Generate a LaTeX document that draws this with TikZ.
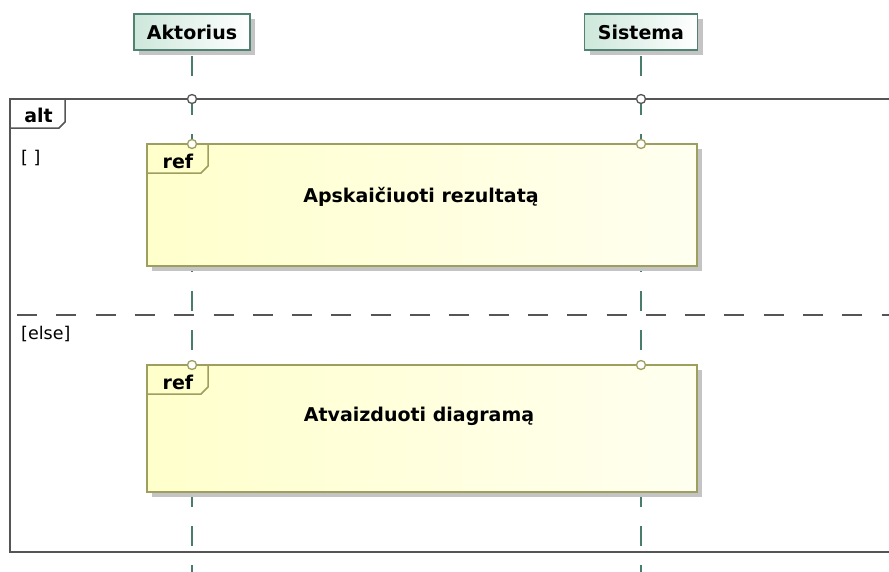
\documentclass[tikz,border=0pt]{standalone}
\usepackage{fontspec}
\setmainfont{DejaVu Sans}
\usetikzlibrary{shadows}

\definecolor{lifegreen}{HTML}{4A7C6C}
\definecolor{headedge}{HTML}{4F8270}
\definecolor{headfill}{HTML}{CDE7DB}
\definecolor{refedge}{HTML}{9E9E5E}
\definecolor{reffill}{HTML}{FFFFCC}
\definecolor{framegray}{HTML}{555555}
\definecolor{shadowgray}{HTML}{C4C4C4}

\tikzset{
  boldtxt/.style={font=\fontsize{19}{22}\selectfont\bfseries, inner sep=0pt},
  plaintxt/.style={font=\fontsize{17.5}{21}\selectfont, inner sep=0pt},
  boxshadow/.style={general shadow={fill=shadowgray, shadow xshift=5pt, shadow yshift=-5pt}},
  headbox/.style={rectangle, draw=headedge, line width=1.5pt, left color=headfill,
    right color=white, boxshadow, minimum height=36pt, inner sep=0pt, boldtxt},
  refbox/.style={rectangle, draw=refedge, line width=1.5pt, left color=reffill,
    right color=white!70!reffill, boxshadow, inner sep=0pt, minimum width=550pt},
  reftab/.style={draw=refedge, line width=1.5pt, fill=reffill},
  lifeline/.style={draw=lifegreen, line width=1.5pt, dash pattern=on 20pt off 19.2pt},
  framelin/.style={draw=framegray, line width=1.5pt},
  sepline/.style={draw=framegray, line width=1.5pt, dash pattern=on 20pt off 19.3pt},
  framecirc/.style={circle, draw=framegray, line width=1.3pt, fill=white, minimum size=9pt, inner sep=0pt},
  refcirc/.style={circle, draw=refedge, line width=1.3pt, fill=white, minimum size=9pt, inner sep=0pt},
}

\begin{document}
\begin{tikzpicture}[x=1pt, y=-1pt]
  \useasboundingbox (0,0) rectangle (889,571);

  % lifeline heads
  \node[headbox, minimum width=116pt] (headA) at (192,32) {Aktorius};
  \node[headbox, minimum width=113pt] (headS) at (641,32) {Sistema};

  % lifelines
  \coordinate (endA) at (192,575);
  \coordinate (endS) at (641,575);
  \draw[lifeline] ([yshift=-5pt]headA.south) -- (endA);
  \draw[lifeline] ([yshift=-5pt]headS.south) -- (endS);

  % alt combined fragment
  \draw[framelin] (900,99) -- (10,99) -- (10,552) -- (900,552);
  \draw[framelin, fill=white] (10,99) -- (65,99) -- (65,122) -- (59,128) -- (10,128) -- cycle;
  \node[boldtxt, anchor=base] (altlbl) at (38.5,122) {alt};
  \draw[sepline] (17,315) -- (900,315);
  \node[plaintxt, anchor=base west] (guard1) at (21,163) {[ ]};
  \node[plaintxt, anchor=base west] (guard2) at (21,339) {[else]};

  % first interaction use
  \node[refbox, minimum height=122pt] (ref1) at (422,205) {};
  \draw[reftab] (147,144) -- (208,144) -- (208,166) -- (201,173) -- (147,173) -- cycle;
  \node[boldtxt, anchor=base] (reflbl1) at (178,168) {ref};
  \node[boldtxt, anchor=base] (reftxt1) at (421,202) {Apskaičiuoti rezultatą};

  % second interaction use
  \node[refbox, minimum height=127pt] (ref2) at (422,428.5) {};
  \draw[reftab] (147,365) -- (208,365) -- (208,387) -- (201,394) -- (147,394) -- cycle;
  \node[boldtxt, anchor=base] (reflbl2) at (178,389) {ref};
  \node[boldtxt, anchor=base] (reftxt2) at (419,421) {Atvaizduoti diagramą};

  % gates where the lifelines meet the fragments
  \node[framecirc] (gA0) at (192,99) {};
  \node[framecirc] (gS0) at (641,99) {};
  \node[refcirc] (gA1) at (192,144) {};
  \node[refcirc] (gS1) at (641,144) {};
  \node[refcirc] (gA2) at (192,365) {};
  \node[refcirc] (gS2) at (641,365) {};
\end{tikzpicture}
\end{document}
